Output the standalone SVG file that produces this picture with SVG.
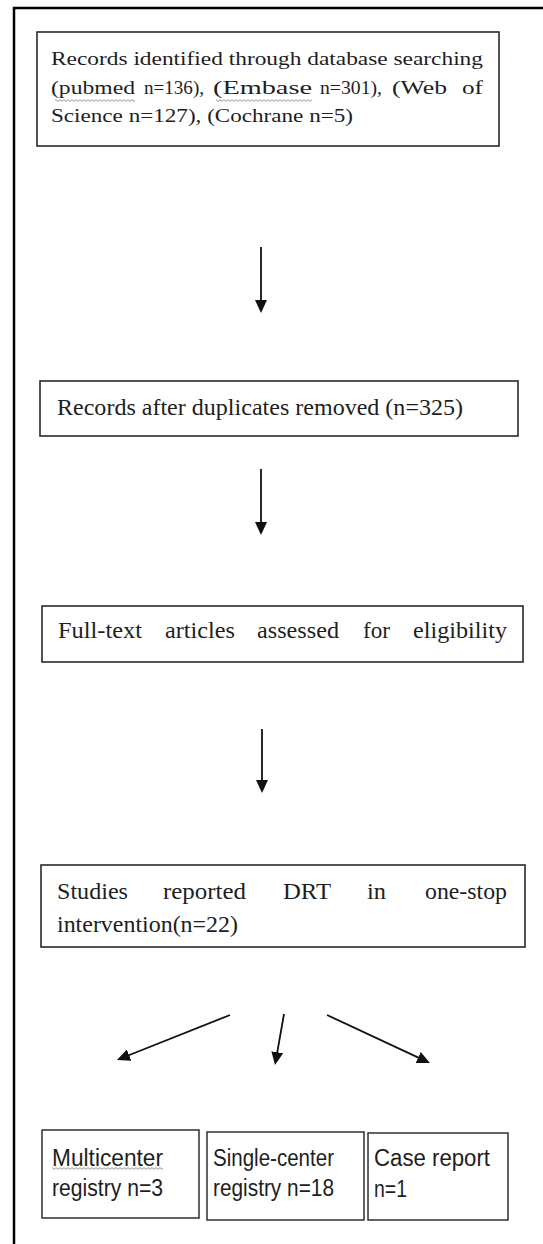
<svg xmlns="http://www.w3.org/2000/svg" width="543" height="1244" viewBox="0 0 543 1244">
<style>
.box{fill:#fff;stroke:#2a2a2a;stroke-width:1.6}
.sbox{fill:#fff;stroke:#222;stroke-width:1.4}
.serif{font-family:"Liberation Serif","Times New Roman",serif;fill:#1e1e1e}
.sans{font-family:"Liberation Sans",Arial,sans-serif;fill:#1e1e1e;font-size:23px}
.f1{font-size:19.5px}
.f2{font-size:23px}
.arrow{stroke:#111;stroke-width:1.8;fill:none;marker-end:url(#ah)}
</style>
<defs>
<marker id="ah" markerUnits="userSpaceOnUse" markerWidth="14" markerHeight="13" refX="5" refY="6" orient="auto">
<path d="M0,0 L13,6 L0,12 z" fill="#111"/>
</marker>
<pattern id="squig" width="4" height="3" patternUnits="userSpaceOnUse">
<path d="M0,0.6 L2,2.4 L4,0.6" stroke="#777" stroke-width="0.8" fill="none"/>
</pattern>
</defs>
<rect width="543" height="1244" fill="#fff"/>
<path d="M14,1244 V8 H543" fill="none" stroke="#000" stroke-width="2.5"/>

<g id="connectors">
<line class="arrow" x1="261" y1="247" x2="261" y2="305"/>
<line class="arrow" x1="261" y1="469" x2="261" y2="527"/>
<line class="arrow" x1="262" y1="729" x2="262" y2="785"/>
<line class="arrow" x1="230" y1="1015" x2="124.4" y2="1057"/>
<line class="arrow" x1="284" y1="1014" x2="276.4" y2="1057.1"/>
<line class="arrow" x1="327" y1="1015" x2="422.7" y2="1059.6"/>
</g>

<g id="records-identified">
<rect class="box" x="37" y="32" width="462" height="114"/>
<g class="serif f1">
<text x="51" y="65" textLength="432" lengthAdjust="spacingAndGlyphs">Records identified through database searching</text>
<text x="51" y="94" textLength="84" lengthAdjust="spacingAndGlyphs">(pubmed</text>
<text x="144" y="94" textLength="60" lengthAdjust="spacingAndGlyphs">n=136),</text>
<text x="213" y="94" textLength="99" lengthAdjust="spacingAndGlyphs">(Embase</text>
<text x="320" y="94" textLength="62" lengthAdjust="spacingAndGlyphs">n=301),</text>
<text x="392" y="94" textLength="55" lengthAdjust="spacingAndGlyphs">(Web</text>
<text x="462" y="94" textLength="21" lengthAdjust="spacingAndGlyphs">of</text>
<text x="51" y="122" textLength="302" lengthAdjust="spacingAndGlyphs">Science n=127), (Cochrane n=5)</text>
</g>
<rect x="55" y="99" width="80" height="3" fill="url(#squig)"/>
<rect x="216" y="99" width="96" height="3" fill="url(#squig)"/>
</g>

<g id="after-duplicates">
<rect class="box" x="40" y="381" width="478" height="55"/>
<text class="serif f2" x="57" y="415" textLength="406" lengthAdjust="spacingAndGlyphs">Records after duplicates removed (n=325)</text>
</g>

<g id="full-text">
<rect class="box" x="42" y="606" width="481" height="56"/>
<g class="serif f2">
<text x="58" y="638" textLength="84" lengthAdjust="spacingAndGlyphs">Full-text</text>
<text x="165" y="638" textLength="70" lengthAdjust="spacingAndGlyphs">articles</text>
<text x="257" y="638" textLength="82" lengthAdjust="spacingAndGlyphs">assessed</text>
<text x="363" y="638" textLength="27" lengthAdjust="spacingAndGlyphs">for</text>
<text x="413" y="638" textLength="94" lengthAdjust="spacingAndGlyphs">eligibility</text>
</g>
</g>

<g id="studies-reported">
<rect class="box" x="41" y="865" width="484" height="82"/>
<g class="serif f2">
<text x="57" y="899" textLength="71" lengthAdjust="spacingAndGlyphs">Studies</text>
<text x="163" y="899" textLength="83" lengthAdjust="spacingAndGlyphs">reported</text>
<text x="283" y="899" textLength="48" lengthAdjust="spacingAndGlyphs">DRT</text>
<text x="367" y="899" textLength="19" lengthAdjust="spacingAndGlyphs">in</text>
<text x="425" y="899" textLength="82" lengthAdjust="spacingAndGlyphs">one-stop</text>
<text x="57" y="932" textLength="181" lengthAdjust="spacingAndGlyphs">intervention(n=22)</text>
</g>
</g>

<g id="multicenter">
<rect class="sbox" x="42" y="1130" width="157" height="88"/>
<text class="sans" x="52" y="1166" textLength="111" lengthAdjust="spacingAndGlyphs">Multicenter</text>
<text class="sans" x="52" y="1196" textLength="111" lengthAdjust="spacingAndGlyphs">registry n=3</text>
<rect x="52" y="1167" width="111" height="3" fill="url(#squig)"/>
</g>

<g id="single-center">
<rect class="sbox" x="207" y="1132" width="157" height="88"/>
<text class="sans" x="213" y="1166" textLength="121" lengthAdjust="spacingAndGlyphs">Single-center</text>
<text class="sans" x="213" y="1196" textLength="121" lengthAdjust="spacingAndGlyphs">registry n=18</text>
</g>

<g id="case-report">
<rect class="sbox" x="368" y="1133" width="140" height="87"/>
<text class="sans" x="374" y="1166" textLength="116" lengthAdjust="spacingAndGlyphs">Case report</text>
<text class="sans" x="374" y="1197" textLength="33" lengthAdjust="spacingAndGlyphs">n=1</text>
</g>
</svg>
